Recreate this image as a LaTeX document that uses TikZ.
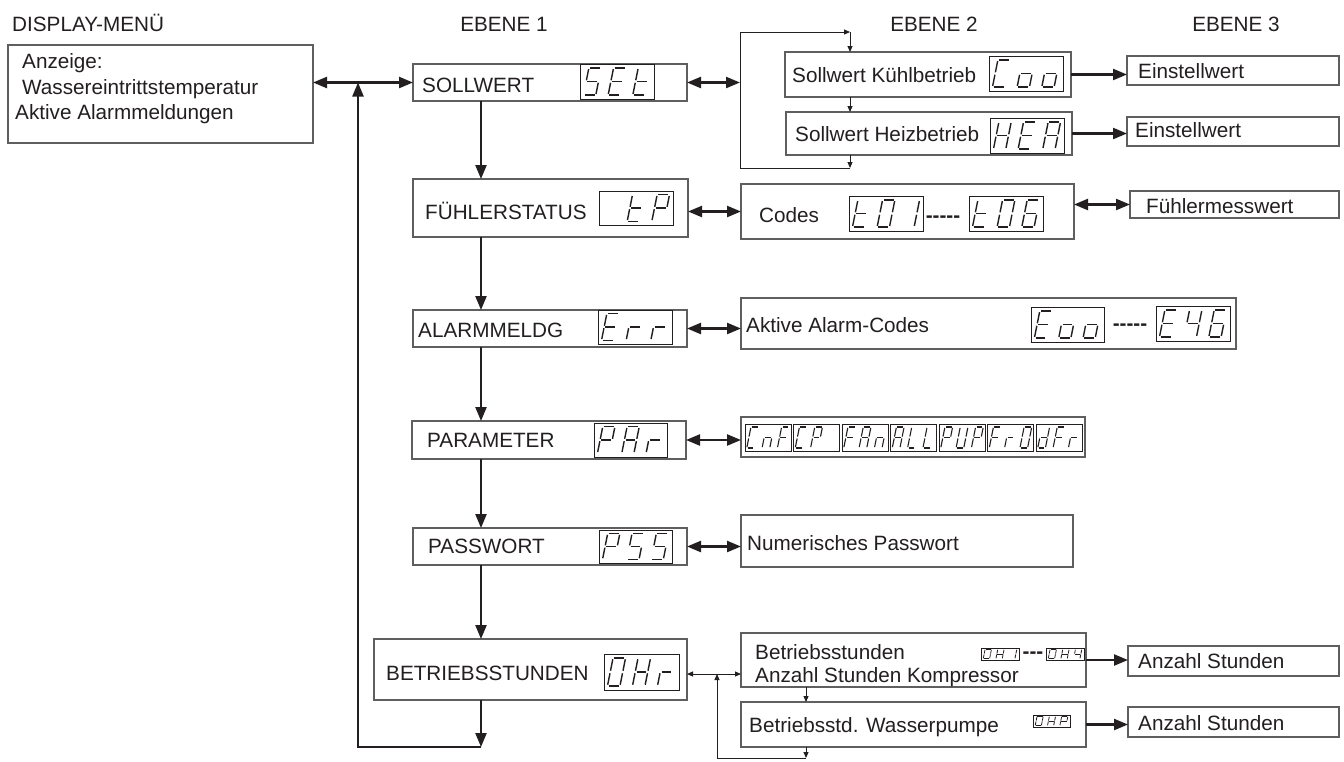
\documentclass[tikz,border=0pt]{standalone}
\usepackage{fontspec}
\setmainfont{Liberation Sans}
\usetikzlibrary{arrows.meta}
\definecolor{ink}{RGB}{35,31,32}
\definecolor{frame}{RGB}{95,95,95}
\newcommand\lblfont{\fontsize{20.7pt}{24pt}\selectfont}
\newcommand\myhy{\mbox{-}}
\newcommand\defdig[2]{\expandafter\def\csname D@#1\endcsname{#2}}
\defdig{S}{a,f,g,c,d}
\defdig{5}{a,f,g,c,d}
\defdig{E}{a,f,g,e,d}
\defdig{t}{f,g,e,d}
\defdig{C}{a,f,e,d}
\defdig{o}{g,c,d,e}
\defdig{H}{b,c,e,f,g}
\defdig{A}{a,b,c,e,f,g}
\defdig{P}{a,b,f,g,e}
\defdig{r}{e,g}
\defdig{0}{a,b,c,d,e,f}
\defdig{1}{b,c}
\defdig{6}{a,f,g,e,d,c}
\defdig{4}{f,g,b,c}
\defdig{n}{e,g,c}
\defdig{F}{a,f,g,e}
\defdig{L}{f,e,d}
\defdig{U}{f,e,d,c,b}
\defdig{d}{b,c,d,e,g}
\defdig{x}{z}
\expandafter\def\csname SEGa\endcsname{\draw[segline] (\sdG,\sdH) -- ({\sdW-\sdG},\sdH);}
\expandafter\def\csname SEGb\endcsname{\draw[segline] (\sdW,{\sdH-\sdG}) -- (\sdW,{\sdHh+\sdG});}
\expandafter\def\csname SEGc\endcsname{\draw[segline] (\sdW,{\sdHh-\sdG}) -- (\sdW,\sdG);}
\expandafter\def\csname SEGd\endcsname{\draw[segline] (\sdG,0) -- ({\sdW-\sdG},0);}
\expandafter\def\csname SEGe\endcsname{\draw[segline] (0,\sdG) -- (0,{\sdHh-\sdG});}
\expandafter\def\csname SEGf\endcsname{\draw[segline] (0,{\sdHh+\sdG}) -- (0,{\sdH-\sdG});}
\expandafter\def\csname SEGg\endcsname{\draw[segline] (\sdG,\sdHh) -- ({\sdW-\sdG},\sdHh);}
\expandafter\def\csname SEGz\endcsname{}
% seven-segment display: name, x0, y0, x1, y1, number of digits, digits
\newcommand\sevdisp[7]{%
  \node[dispbox, minimum width={#4-#2}, minimum height={#5-#3}] (#1) at (#2,#3) {};
  \pgfmathsetmacro\sdP{(#4-#2)/#6}%
  \pgfmathsetmacro\sdH{(#5-#3)*0.78}%
  \pgfmathsetmacro\sdW{\sdP*0.5}%
  \pgfmathsetmacro\sdG{\sdH*0.045}%
  \pgfmathsetmacro\sdHh{\sdH/2}%
  \pgfmathsetmacro\sdY{#5-(#5-#3)*0.11}%
  \foreach \dl [count=\di from 0] in {#7}{%
    \pgfmathsetmacro\sdX{#2+\sdP*\di+(\sdP-\sdW-0.2*\sdH)/2}%
    \begin{scope}[shift={(\sdX,\sdY)}, y=1pt, xslant=0.2]
      \edef\segs{\csname D@\dl\endcsname}%
      \foreach \sg in \segs {\csname SEG\sg\endcsname}%
    \end{scope}%
  }%
}
\newcommand\boxat[5]{\node[box, minimum width={#4-#2}, minimum height={#5-#3}] (#1) at (#2,#3) {};}

\begin{document}
\begin{tikzpicture}[x=1pt,y=-1pt,
  box/.style={draw=frame, line width=1.2pt, inner sep=0pt, outer sep=0pt, anchor=north west},
  dispbox/.style={draw=ink, line width=1pt, inner sep=0pt, outer sep=0pt, anchor=north west},
  segline/.style={draw=ink, line width=1.4pt},
  lbl/.style={anchor=base west, inner sep=0pt, text=ink, font=\lblfont},
  hdr/.style={anchor=base, inner sep=0pt, text=ink, font=\lblfont},
  dashtxt/.style={anchor=base, inner sep=0pt, text=ink, font=\lblfont\bfseries},
  flowarr/.style={draw=ink, line width=2.3pt, -{Triangle[length=14pt,width=11pt]}},
  flowdbl/.style={draw=ink, line width=2.3pt, {Triangle[length=14pt,width=11pt]}-{Triangle[length=14pt,width=11pt]}},
  thinarr/.style={draw=ink, line width=0.9pt, -{Triangle[length=6pt,width=5pt]}},
  thindbl/.style={draw=ink, line width=0.9pt, {Triangle[length=6pt,width=5pt]}-{Triangle[length=6pt,width=5pt]}},
  thinline/.style={draw=ink, line width=0.9pt}
]
\useasboundingbox (0,0) rectangle (1344,761);
\fill[white] (0,0) rectangle (1344,761);

% headers
\node[lbl] (h0) at (12,31) {DISPLAY-MENÜ};
\node[hdr] (h1) at (504,31) {EBENE 1};
\node[hdr] (h2) at (934,31) {EBENE 2};
\node[hdr] (h3) at (1236,31) {EBENE 3};

% boxes
\boxat{disp}{8}{45}{313}{143}
\boxat{soll}{413}{64}{687}{101}
\boxat{kuehl}{785}{52}{1071}{97}
\boxat{heiz}{786}{112}{1072}{155}
\boxat{ein1}{1127}{56}{1339}{85}
\boxat{ein2}{1127}{117}{1339}{146}
\boxat{fuehl}{413}{179}{688}{237}
\boxat{codes}{741}{184}{1074}{239}
\boxat{fmw}{1130}{191}{1339}{218}
\boxat{alarm}{413}{310}{687}{347}
\boxat{acodes}{741}{298}{1236}{349}
\boxat{param}{412}{421}{686}{459}
\boxat{pcodes}{741}{417}{1085}{457}
\boxat{pass}{413}{528}{687}{565}
\boxat{npw}{741}{515}{1073}{567}
\boxat{betr}{374}{639}{687}{700}
\boxat{bstd}{741}{633}{1086}{687}
\boxat{wpump}{741}{702}{1086}{747}
\boxat{anz1}{1128}{646}{1339}{676}
\boxat{anz2}{1128}{707}{1339}{737}

% texts
\node[lbl] (t1) at (22,68) {Anzeige:};
\node[lbl] (t2) at (22,94) {Wassereintrittstemperatur};
\node[lbl] (t3) at (15,119) {Aktive Alarmmeldungen};
\node[lbl] (t4) at (422,92) {SOLLWERT};
\node[lbl] (t5) at (792,82) {Sollwert Kühlbetrieb};
\node[lbl] (t6) at (795,141) {Sollwert Heizbetrieb};
\node[lbl] (t7) at (1138,78) {Einstellwert};
\node[lbl] (t8) at (1135,137) {Einstellwert};
\node[lbl] (t9) at (425,219) {FÜHLERSTATUS};
\node[lbl] (t10) at (759,222) {Codes};
\node[lbl] (t11) at (1146,213) {Fühlermesswert};
\node[lbl] (t12) at (418,337) {ALARMMELDG};
\node[lbl] (t13) at (746,332) {Aktive Alarm-Codes};
\node[lbl] (t14) at (427,447) {PARAMETER};
\node[lbl] (t15) at (428,553) {PASSWORT};
\node[lbl] (t16) at (747,550) {Numerisches Passwort};
\node[lbl] (t17) at (386,680) {BETRIEBSSTUNDEN};
\node[lbl] (t18) at (755,659) {Betriebsstunden};
\node[lbl] (t19) at (755,682) {Anzahl Stunden Kompressor};
\node[lbl] (t20) at (749,732) {Betriebsstd. Wasserpumpe};
\node[lbl] (t21) at (1138,668) {Anzahl Stunden};
\node[lbl] (t22) at (1138,730) {Anzahl Stunden};

% dashes between displays
\node[dashtxt] (dd1) at (943,222.6) {\myhy\myhy\myhy\myhy\myhy};
\node[dashtxt] (dd2) at (1130,330.6) {\myhy\myhy\myhy\myhy\myhy};
\node[dashtxt] (dd3) at (1033,658.6) {\myhy\myhy\myhy};

% seven-segment displays
\sevdisp{dSET}{580}{64}{654}{99}{3}{S,E,t}
\sevdisp{dCoo}{989}{56}{1063}{91}{3}{C,o,o}
\sevdisp{dHEA}{990}{118}{1064}{153}{3}{H,E,A}
\sevdisp{dtP}{599}{191}{673}{225}{3}{x,t,P}
\sevdisp{dt01}{849}{196}{923}{231}{3}{t,0,1}
\sevdisp{dt06}{969}{196}{1043}{231}{3}{t,0,6}
\sevdisp{dErr}{598}{310}{672}{344}{3}{E,r,r}
\sevdisp{dEoo}{1031}{307}{1104}{342}{3}{E,o,o}
\sevdisp{dE46}{1156}{306}{1230}{341}{3}{E,4,6}
\sevdisp{dPAr}{594}{423}{667}{457}{3}{P,A,r}
\sevdisp{dPSS}{599}{530}{672}{563}{3}{P,5,5}
\sevdisp{dOHr}{604}{654}{679}{690}{3}{0,H,r}
\begin{scope}[segline/.style={draw=ink, line width=1.1pt}, dispbox/.style={draw=ink, line width=0.8pt, inner sep=0pt, outer sep=0pt, anchor=north west}]
\sevdisp{dCnF}{745}{424}{791}{451}{3}{C,n,F}
\sevdisp{dCP}{793.5}{424}{839.5}{451}{3}{C,P,x}
\sevdisp{dFAn}{842}{424}{888}{451}{3}{F,A,n}
\sevdisp{dALL}{890.5}{424}{936.5}{451}{3}{A,L,L}
\sevdisp{dPUP}{939}{424}{985}{451}{3}{P,U,P}
\sevdisp{dFr0}{987.5}{424}{1033.5}{451}{3}{F,r,0}
\sevdisp{ddFr}{1036}{424}{1082}{451}{3}{d,F,r}
\end{scope}
\begin{scope}[segline/.style={draw=ink, line width=0.8pt}, dispbox/.style={draw=ink, line width=0.7pt, inner sep=0pt, outer sep=0pt, anchor=north west}]
\sevdisp{dOH1}{981}{648}{1019}{660}{3}{0,H,1}
\sevdisp{dOH4}{1046}{648}{1084}{660}{3}{0,H,4}
\sevdisp{dOHP}{1033}{715}{1070}{727}{3}{0,H,P}
\end{scope}

% helper coordinates
\coordinate (cx) at (481,0);
\coordinate (retR) at (481,747);
\coordinate (retL) at (358,747);
\coordinate (bx) at (740,0);
\coordinate (bt) at (740,32);
\coordinate (bb) at (740,168);
\coordinate (kx) at (850,0);
\coordinate (lx) at (806,0);
\coordinate (lb) at (806,758);
\coordinate (lL) at (717,758);
\coordinate (lT) at (717,674);

% main flow
\draw[flowdbl] (disp.east |- soll.west) -- (soll.west);
\draw[flowarr] (soll.south -| cx) -- (fuehl.north -| cx);
\draw[flowarr] (fuehl.south -| cx) -- (alarm.north -| cx);
\draw[flowarr] (alarm.south -| cx) -- (param.north -| cx);
\draw[flowarr] (param.south -| cx) -- (pass.north -| cx);
\draw[flowarr] (pass.south -| cx) -- (betr.north -| cx);
\draw[flowarr] (betr.south -| cx) -- (retR);
\draw[flowarr] (retR) -- (retL) -- (retL |- soll.west);

% level 2 links
\draw[flowdbl] (soll.east) -- (soll.east -| bx);
\draw[thinarr] (heiz.south -| kx) -- (kx |- bb);
\draw[thinarr] (kx |- bb) -- (bb) -- (bt) -- (kx |- bt);
\draw[thinarr] (kx |- bt) -- (kuehl.north -| kx);
\draw[thinarr] (kuehl.south -| kx) -- (heiz.north -| kx);
\draw[flowarr] (kuehl.east) -- (kuehl.east -| ein1.west);
\draw[flowarr] (heiz.east) -- (heiz.east -| ein2.west);

\draw[flowdbl] (codes.west -| fuehl.east) -- (codes.west);
\draw[flowdbl] (fmw.west -| codes.east) -- (fmw.west);
\draw[flowdbl] (alarm.east) -- (alarm.east -| acodes.west);
\draw[flowdbl] (param.east) -- (param.east -| pcodes.west);
\draw[flowdbl] (pass.east) -- (pass.east -| npw.west);

\draw[thindbl] ([yshift=-4.5pt]betr.east) -- ([yshift=-4.5pt]betr.east -| bstd.west);
\draw[thinarr] (bstd.south -| lx) -- (wpump.north -| lx);
\draw[thinarr] (wpump.south -| lx) -- (lb);
\draw[thinarr] (lb) -- (lL) -- (lT);
\draw[flowarr] (bstd.east) -- (bstd.east -| anz1.west);
\draw[flowarr] (wpump.east) -- (wpump.east -| anz2.west);
\end{tikzpicture}
\end{document}
